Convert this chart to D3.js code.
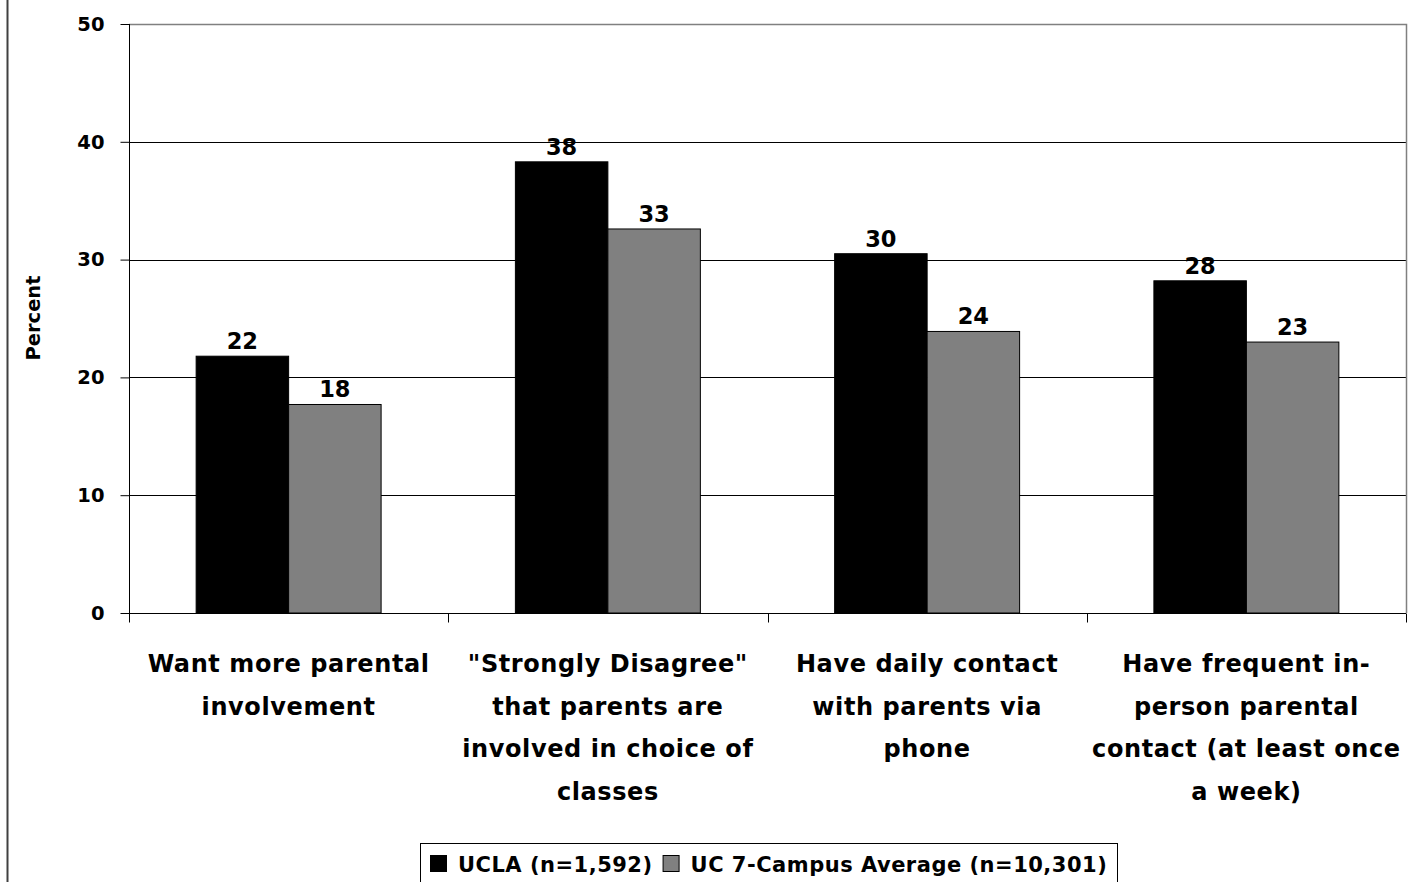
<!DOCTYPE html>
<html><head><meta charset="utf-8">
<script src="https://cdn.jsdelivr.net/npm/d3@7"></script>
<style>
html,body{margin:0;padding:0;background:#fff;}
svg text{font-family:"DejaVu Sans",sans-serif;font-weight:bold;fill:#000;}
</style></head>
<body>
<script>
const categories = ["Want more parental involvement", "\"Strongly Disagree\" that parents are involved in choice of classes", "Have daily contact with parents via phone", "Have frequent in-person parental contact (at least once a week)"];
const categoryLines = [
  ["Want more parental", "involvement"],
  ["\"Strongly Disagree\"", "that parents are", "involved in choice of", "classes"],
  ["Have daily contact", "with parents via", "phone"],
  ["Have frequent in-", "person parental", "contact (at least once", "a week)"]
];
const seriesNames = ["UCLA (n=1,592)", "UC 7-Campus Average (n=10,301)"];
const uclaValues = [21.8, 38.3, 30.5, 28.2];
const ucValues = [17.7, 32.6, 23.9, 23.0];
const valueLabels = [["22","38","30","28"],["18","33","24","23"]];
const yTicks = [0, 10, 20, 30, 40, 50];
const colors = ["#000000", "#808080"];

const W = 1411, H = 882;
const L = 129, R = 1406, T = 24, B = 613;
const svg = d3.select("body").append("svg").attr("width", W).attr("height", H);

// outer frame left line
svg.append("line").attr("x1", 7.5).attr("x2", 7.5).attr("y1", 0).attr("y2", H)
  .attr("stroke", "#404040").attr("stroke-width", 2);

const y = d3.scaleLinear().domain([0, 50]).range([B, T]);
const x0 = d3.scaleBand().domain(categories).range([L, R]).padding(0);
const x1 = d3.scaleBand().domain([0, 1]).range([0, x0.bandwidth()]).paddingInner(0).paddingOuter(0.726);

// gridlines
svg.append("g").selectAll("line").data(yTicks.filter(t => t > 0 && t < 50)).join("line")
  .attr("x1", L).attr("x2", R).attr("y1", d => Math.round(y(d)) + 0.5).attr("y2", d => Math.round(y(d)) + 0.5)
  .attr("stroke", "#000").attr("stroke-width", 1);
// plot border top & right (grey)
svg.append("path").attr("d", `M${L},${Math.round(y(50))+0.5}H${R+0.5}V${B}`)
  .attr("fill", "none").attr("stroke", "#808080").attr("stroke-width", 1.5);

// bars
const series = [uclaValues, ucValues];
series.forEach((vals, si) => {
  svg.append("g").selectAll("rect").data(vals).join("rect")
    .attr("x", (d, i) => x0(categories[i]) + x1(si))
    .attr("y", d => y(d))
    .attr("width", x1.bandwidth())
    .attr("height", d => y(0) - y(d))
    .attr("fill", colors[si]).attr("stroke", "#000").attr("stroke-width", 1);
  svg.append("g").selectAll("text").data(vals).join("text")
    .attr("x", (d, i) => x0(categories[i]) + x1(si) + x1.bandwidth() / 2)
    .attr("y", d => y(d) - 7)
    .attr("text-anchor", "middle").attr("font-size", 22.5)
    .text((d, i) => valueLabels[si][i]);
});

// y axis
const yAxis = d3.axisLeft(y).tickValues(yTicks).tickSize(9).tickPadding(16);
const gy = svg.append("g").attr("transform", `translate(${L + 0.5},0)`).call(yAxis);
gy.select(".domain").attr("stroke", "#000").attr("d", `M0,${y(50)}V${y(0)}`);
gy.selectAll(".tick line").attr("stroke", "#000");
gy.selectAll(".tick text").attr("font-size", 19.5);

// x axis
const xAxis = d3.axisBottom(x0).tickValues([]).tickSizeOuter(0);
const gx = svg.append("g").attr("transform", `translate(0,${B + 0.5})`).call(xAxis);
gx.select(".domain").attr("stroke", "#000").attr("d", `M${L},0H${R}`);
const bounds = categories.map(c => x0(c)).concat([R]);
gx.selectAll("line.sep").data(bounds).join("line").attr("class", "sep")
  .attr("x1", d => Math.round(d) + 0.5).attr("x2", d => Math.round(d) + 0.5).attr("y1", 0).attr("y2", 9)
  .attr("stroke", "#000");

// category labels
categories.forEach((c, i) => {
  const cx = x0(c) + x0.bandwidth() / 2;
  svg.append("text").attr("text-anchor", "middle").attr("font-size", 24)
    .attr("letter-spacing", 0.6)
    .selectAll("tspan").data(categoryLines[i]).join("tspan")
    .attr("x", cx).attr("y", (d, j) => 672 + j * 42.5).text(d => d);
});

// y title
svg.append("text").attr("transform", `translate(40,318) rotate(-90)`)
  .attr("text-anchor", "middle").attr("font-size", 19.5).text("Percent");

// legend
const lg = svg.append("g");
lg.append("rect").attr("x", 420.5).attr("y", 843.5).attr("width", 697).attr("height", 50)
  .attr("fill", "#fff").attr("stroke", "#000").attr("stroke-width", 1);
let lx = 430;
seriesNames.forEach((s, i) => {
  lg.append("rect").attr("x", lx + 0.5).attr("y", 855.5).attr("width", 16).attr("height", 16)
    .attr("fill", colors[i]).attr("stroke", "#000");
  const t = lg.append("text").attr("x", lx + 28).attr("y", 872).attr("font-size", 21)
    .attr("letter-spacing", 0.5).text(s);
  lx = lx + 28 + t.node().getComputedTextLength() + 10;
});
</script>
</body></html>
